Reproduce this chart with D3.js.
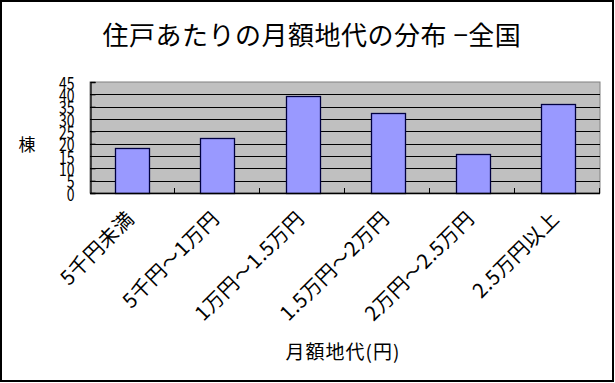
<!DOCTYPE html>
<html>
<head>
<meta charset="utf-8">
<script src="https://cdn.jsdelivr.net/npm/d3@7"></script>
<style>
  body { margin: 0; background: #fff; }
  svg text { font-family: "Noto Sans CJK JP", sans-serif; fill: #000; }
</style>
</head>
<body>
<svg width="615" height="383"></svg>
<script>
// chart data
const categories = ["5千円未満", "5千円～1万円", "1万円～1.5万円", "1.5万円～2万円", "2万円～2.5万円", "2.5万円以上"];
const values = [18.1, 22.1, 39.2, 32.3, 16.0, 35.9];
const yTicks = [0, 5, 10, 15, 20, 25, 30, 35, 40, 45];
const title = "住戸あたりの月額地代の分布 −全国";
const xTitle = "月額地代(円)";
const yTitle = "棟";

const svg = d3.select("svg");

const plotL = 90, plotR = 600, plotT = 82, plotB = 193;

const x = d3.scaleBand()
  .domain(categories)
  .range([plotL, plotR])
  .paddingInner(0.6)
  .paddingOuter(0.3);

const y = d3.scaleLinear()
  .domain([0, 45])
  .range([plotB, plotT]);

// outer frame
svg.append("rect")
  .attr("x", 1).attr("y", 1)
  .attr("width", 612).attr("height", 380)
  .attr("fill", "#fff")
  .attr("stroke", "#000")
  .attr("stroke-width", 2);

// plot background
svg.append("rect")
  .attr("x", plotL).attr("y", plotT)
  .attr("width", plotR - plotL).attr("height", plotB - plotT)
  .attr("fill", "#c0c0c0")
  .attr("stroke", "#808080");

// gridlines
svg.append("g")
  .selectAll("line")
  .data(yTicks.filter(d => d > 0 && d < 45))
  .enter().append("line")
  .attr("x1", plotL).attr("x2", plotR)
  .attr("y1", d => Math.round(y(d)) + 0.5)
  .attr("y2", d => Math.round(y(d)) + 0.5)
  .attr("stroke", "#000");

// bars
svg.append("g")
  .selectAll("rect")
  .data(values)
  .enter().append("rect")
  .attr("x", (d, i) => Math.round(x(categories[i])) + 0.5)
  .attr("y", d => Math.round(y(d)) + 0.5)
  .attr("width", x.bandwidth())
  .attr("height", d => y(0) - Math.round(y(d)))
  .attr("fill", "#9999ff")
  .attr("stroke", "#000040")
  .attr("stroke-width", 1.3);

// x axis line + inside ticks at category boundaries
const step = x.step();
const bounds = d3.range(categories.length + 1).map(i => plotL + i * step);
svg.append("line")
  .attr("x1", plotL).attr("x2", plotR)
  .attr("y1", plotB + 0.5).attr("y2", plotB + 0.5)
  .attr("stroke", "#000").attr("stroke-width", 1.3);
svg.append("g")
  .selectAll("line")
  .data(bounds.slice(1))
  .enter().append("line")
  .attr("x1", d => Math.round(d) - 0.5).attr("x2", d => Math.round(d) - 0.5)
  .attr("y1", plotB - 5).attr("y2", plotB)
  .attr("stroke", "#000");

// y axis
const yAxis = svg.append("g")
  .attr("transform", `translate(${plotL + 0.5},0)`)
  .call(d3.axisLeft(y).tickValues(yTicks).tickSize(-5).tickPadding(0));
yAxis.select(".domain").attr("stroke", "#000").attr("stroke-width", 1.3);
yAxis.selectAll(".tick line").attr("stroke", "#000");
yAxis.selectAll(".tick text")
  .attr("x", null).attr("dy", null)
  .attr("text-anchor", "end")
  .attr("dominant-baseline", "central")
  .attr("font-size", 14)
  .attr("transform", "translate(-16,0) scale(1,1.25)");

// category labels
svg.append("g")
  .selectAll("text")
  .data(categories)
  .enter().append("text")
  .attr("transform", d => `translate(${x(d) + x.bandwidth() / 2 - 3},${plotB + 21}) rotate(-45)`)
  .attr("text-anchor", "end")
  .attr("dominant-baseline", "central")
  .attr("font-size", 20)
  .attr("letter-spacing", 0.6)
  .text(d => d);

// titles
svg.append("text")
  .attr("x", 312).attr("y", 33)
  .attr("text-anchor", "middle")
  .attr("dominant-baseline", "central")
  .attr("font-size", 26)
  .attr("letter-spacing", 0.5)
  .text(title);

svg.append("text")
  .attr("x", 343).attr("y", 350)
  .attr("text-anchor", "middle")
  .attr("dominant-baseline", "central")
  .attr("font-size", 19)
  .attr("letter-spacing", 1)
  .text(xTitle);

svg.append("text")
  .attr("x", 27).attr("y", 143)
  .attr("text-anchor", "middle")
  .attr("dominant-baseline", "central")
  .attr("font-size", 17)
  .text(yTitle);
</script>
</body>
</html>
